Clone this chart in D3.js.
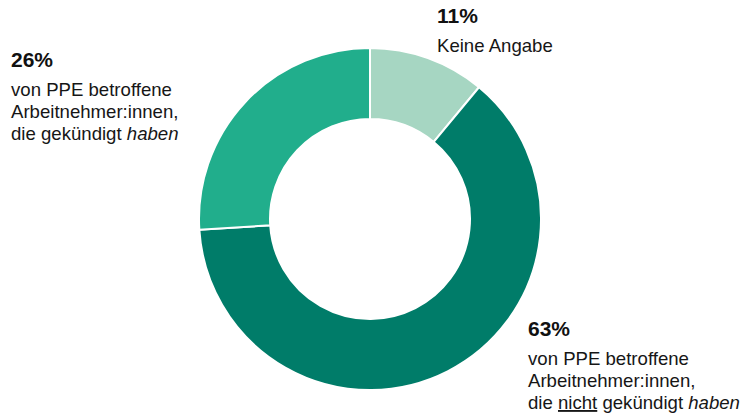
<!DOCTYPE html>
<html>
<head>
<meta charset="utf-8">
<script src="https://cdn.jsdelivr.net/npm/d3@7"></script>
<style>
  html, body { margin: 0; padding: 0; background: #fff; }
  svg { display: block; font-family: "Liberation Sans", Arial, sans-serif; }
</style>
</head>
<body>
<svg id="chart" width="748" height="415"></svg>
<script>
const categories = ["Keine Angabe", "nicht gekündigt", "gekündigt"];
const values = [11, 63, 26];
const colors = ["#a6d6c2", "#007c69", "#21ae8c"];

const svg = d3.select("#chart");
const cx = 370, cy = 219, rOuter = 171, rInner = 100;

const pie = d3.pie().sort(null).value(d => d)(values);
const arc = d3.arc().innerRadius(rInner).outerRadius(rOuter);

const g = svg.append("g").attr("transform", `translate(${cx},${cy})`);
g.selectAll("path").data(pie).join("path")
  .attr("d", arc)
  .attr("fill", (d, i) => colors[i])
  .attr("stroke", "#fff")
  .attr("stroke-width", 2);

const fmt = v => v + "%";

function label(x, y, pct, lines) {
  const t = svg.append("g");
  t.append("text").attr("x", x).attr("y", y)
    .attr("font-size", 21).attr("font-weight", "bold").attr("fill", "#111")
    .text(fmt(pct));
  lines.forEach((parts, i) => {
    const tx = t.append("text").attr("x", x).attr("y", y + 29 + i * 22)
      .attr("font-size", 18.6).attr("fill", "#161616");
    parts.forEach(p => {
      const ts = tx.append("tspan").text(p.t);
      if (p.i) ts.attr("font-style", "italic");
      if (p.u) ts.attr("text-decoration", "underline");
    });
  });
}

label(437, 23, values[0], [[{t: "Keine Angabe"}]]);
label(11, 67, values[2], [
  [{t: "von PPE betroffene"}],
  [{t: "Arbeitnehmer:innen,"}],
  [{t: "die gekündigt "}, {t: "haben", i: true}]
]);
label(528, 336, values[1], [
  [{t: "von PPE betroffene"}],
  [{t: "Arbeitnehmer:innen,"}],
  [{t: "die "}, {t: "nicht", u: true}, {t: " gekündigt "}, {t: "haben", i: true}]
]);
</script>
</body>
</html>
